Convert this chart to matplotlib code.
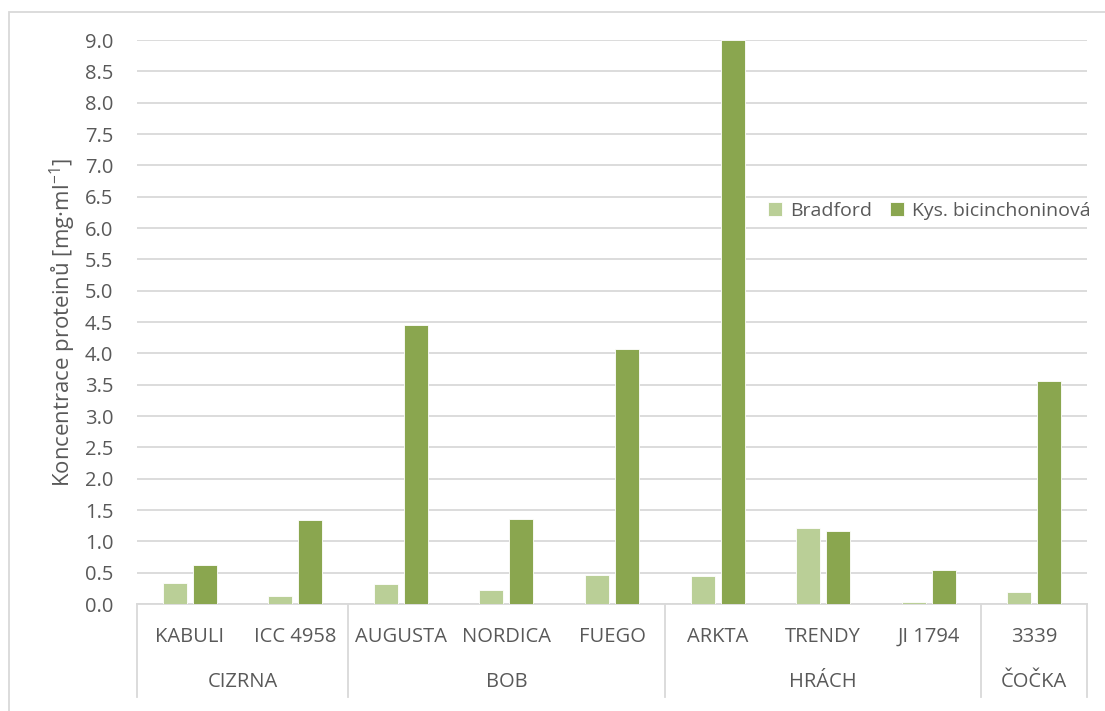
import numpy as np
import matplotlib.pyplot as plt
from matplotlib.patches import Rectangle

plt.rcParams['font.family'] = ['Open Sans', 'DejaVu Sans']

# Data
odrudy = ["KABULI", "ICC 4958", "AUGUSTA", "NORDICA", "FUEGO", "ARKTA", "TRENDY", "JI 1794", "3339"]
skupiny = ["CIZRNA", "BOB", "HRÁCH", "ČOČKA"]
pocty_ve_skupine = [2, 3, 3, 1]
bradford = [0.34, 0.13, 0.32, 0.22, 0.47, 0.45, 1.21, 0.03, 0.19]
bca = [0.62, 1.34, 4.45, 1.35, 4.07, 9.00, 1.16, 0.54, 3.56]
yticks = np.arange(0, 9.01, 0.5)

c_light = "#BACF97"
c_dark = "#8AA64F"
text_col = "#595959"
grid_col = "#D9D9D9"

fig = plt.figure(figsize=(11.05, 7.11), dpi=100)
ax = fig.add_axes([137/1105, 1 - 604/711, (1087-137)/1105, (604-40)/711])

x = np.arange(len(odrudy))
w = 0.228
ax.bar(x - 0.142, bradford, w, color=c_light, edgecolor="white", linewidth=0.6, label="Bradford", zorder=3)
ax.bar(x + 0.142, bca, w, color=c_dark, edgecolor="white", linewidth=0.6, label="Kys. bicinchoninová", zorder=3)

ax.set_xlim(-0.5, len(odrudy) - 0.5)
ax.set_ylim(0, 9.0)
ax.set_yticks(yticks)
ax.set_yticklabels([f"{v:.1f}" for v in yticks], fontsize=14.5, color=text_col)
ax.tick_params(axis="y", length=0, pad=17)
ax.set_xticks([])
ax.grid(axis="y", color=grid_col, linewidth=1.3, zorder=0)
for s in ["top", "right", "left"]:
    ax.spines[s].set_visible(False)
ax.spines["bottom"].set_color(grid_col)
ax.spines["bottom"].set_linewidth(1.3)

ax.set_ylabel("Koncentrace proteinů [mg·ml$^{\\mathregular{-1}}$]", fontsize=16, color=text_col, labelpad=5)

# multi-level category axis
tr = ax.get_xaxis_transform()
low = -(697 - 604) / 564
for i, o in enumerate(odrudy):
    ax.text(i, -(637 - 604) / 564, o, transform=tr, ha="center", va="center",
            fontsize=14.5, color=text_col, clip_on=False)
hranice = [-0.5]
for n in pocty_ve_skupine:
    hranice.append(hranice[-1] + n)
for b in hranice:
    ax.plot([b, b], [0, low], transform=tr, color=grid_col, linewidth=1.3, clip_on=False)
for k, g in enumerate(skupiny):
    stred = (hranice[k] + hranice[k + 1]) / 2
    ax.text(stred, -(682 - 604) / 564, g, transform=tr, ha="center", va="center",
            fontsize=14.5, color=text_col, clip_on=False)

ax.legend(loc="center left", bbox_to_anchor=((760 - 137) / 950, (604 - 211) / 564),
          frameon=False, ncol=2, fontsize=14, labelcolor=text_col, handlelength=0.75,
          handleheight=0.75, handletextpad=0.4, columnspacing=0.9, borderaxespad=0)

# chart frame
fig.patches.append(Rectangle((9/1105, -0.1), 1.2, 1 - 12/711 + 0.1, transform=fig.transFigure,
                             fill=False, edgecolor=grid_col, linewidth=1.3))

fig.savefig("out.png", dpi=100)
